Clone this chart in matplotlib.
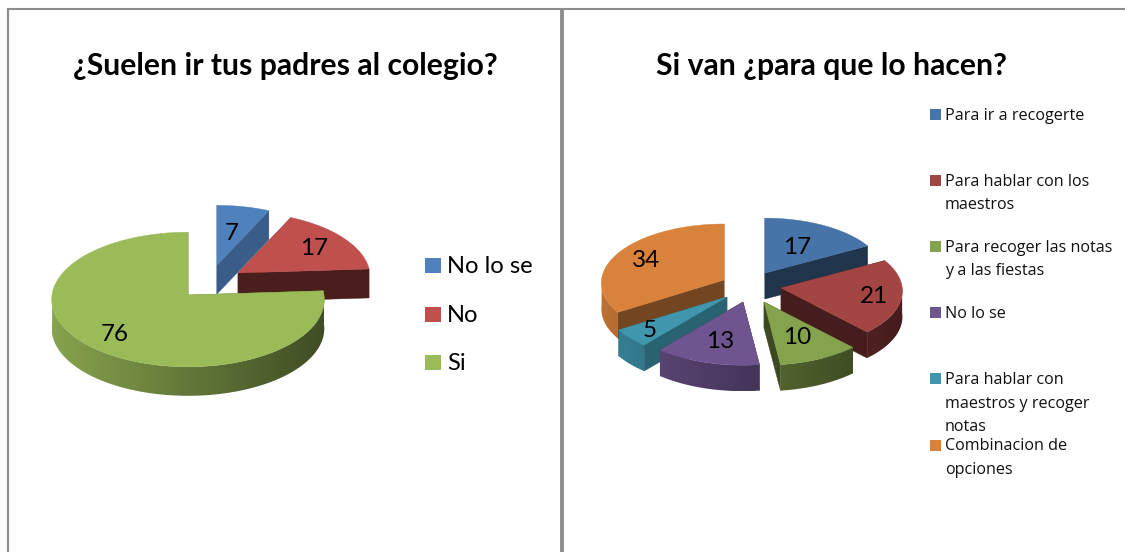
import numpy as np
import matplotlib
matplotlib.use("Agg")
import matplotlib.pyplot as plt
from matplotlib.patches import Rectangle, Polygon

# ---- data ----
title_left = "¿Suelen ir tus padres al colegio?"
labels_left = ["No lo se", "No", "Si"]
values_left = [7, 17, 76]
colors_left = ["#4f81bd", "#c0504d", "#9bbb59"]

title_right = "Si van ¿para que lo hacen?"
labels_right = ["Para ir a recogerte", "Para hablar con los\nmaestros",
                "Para recoger las notas\ny a las fiestas", "No lo se",
                "Para hablar con\nmaestros y recoger\nnotas", "Combinacion de\nopciones"]
values_right = [17, 21, 10, 13, 5, 34]
colors_right = ["#4673a8", "#a34543", "#85a24c", "#6f5590", "#3f96ad", "#d9823c"]

# ---- layout / style ----
left_style = dict(center=(188, 295), rx=136, ry=67, persp=0.067, depth=29,
                  offsets=[(29, -30), (50, -22), (0, 0)],
                  scale=[0.95, 0.97, 1.0],
                  label_frac=[0.55, 0.72, 0.75],
                  cut_shade=[0.72, 0.38, 0.6])
right_style = dict(center=(742, 290), rx=125, ry=60, persp=0.05, depth=26,
                   offsets=[(23, -17), (39, -2), (22, 12), (1, 12), (-15, 7), (-18, -10)],
                   scale=[0.96, 0.97, 1.0, 1.0, 1.0, 0.98],
                   label_frac=[0.55, 0.77, 0.6, 0.63, 0.8, 0.74],
                   cut_shade=[0.45, 0.42, 0.45, 0.6, 0.65, 0.53])

FONT = "Lato"
LEGFONT = "Open Sans"

fig = plt.figure(figsize=(11.25, 5.52), dpi=100, facecolor="white")
ax = fig.add_axes([0, 0, 1, 1])
ax.axis("off")


def project(theta, st, sc=1.0):
    p = 1 + st["persp"] * np.cos(theta)
    return sc * st["rx"] * np.sin(theta) / p, -sc * st["ry"] * np.cos(theta) / p


def draw_wall(px, py, d, ax0, rx, base, z):
    """Front rim band with a left-to-right shading gradient."""
    xs = np.linspace(px.min(), px.max(), 256)
    s = np.clip((xs - ax0) / rx, -1, 1)
    f = 0.64 - 0.23 * s
    img = (np.array(matplotlib.colors.to_rgb(base))[None, None, :] * f[None, :, None]).clip(0, 1)
    poly = Polygon(np.c_[np.r_[px, px[::-1]], np.r_[py, py[::-1] + d]], closed=True,
                   transform=ax.transData, facecolor="none", edgecolor="none")
    ax.add_patch(poly)
    im = ax.imshow(img, extent=[px.min(), px.max(), py.max() + d, py.min()], aspect="auto",
                   interpolation="bilinear", zorder=z)
    im.set_clip_path(poly)


def draw_pie(values, colors, st):
    total = sum(values)
    edges = np.radians(np.cumsum([0] + list(values)) / total * 360)
    mids = (edges[:-1] + edges[1:]) / 2
    order = list(np.argsort(-np.cos(mids)))
    cx, cy = st["center"]
    d = st["depth"]
    rgb = matplotlib.colors.to_rgb
    for i in order:
        ox, oy = st["offsets"][i]
        ax0, ay0 = cx + ox, cy + oy
        sc = st["scale"][i]
        th = np.linspace(edges[i], edges[i + 1], 240)
        px, py = project(th, st, sc)
        px, py = px + ax0, py + ay0
        z = 2 + order.index(i) * 3
        # cut faces
        cut = tuple(c * st["cut_shade"][i] for c in rgb(colors[i]))
        for k in (0, -1):
            ax.fill([ax0, px[k], px[k], ax0], [ay0, py[k], py[k] + d, ay0 + d],
                    color=cut, lw=0.3, zorder=z)
        # outer wall: only the part of the rim that faces the viewer
        front = np.cos(th) < 0.02
        if front.sum() > 2:
            draw_wall(px[front], py[front], d, ax0, st["rx"], colors[i], z + 1)
        # top
        ax.fill(np.r_[ax0, px], np.r_[ay0, py], color=colors[i], lw=0.3, zorder=z + 2)
        # value label
        lx, ly = project(mids[i], st, sc)
        fr = st["label_frac"][i]
        ax.text(ax0 + fr * lx, ay0 + fr * ly + 1, str(values[i]), ha="center", va="center",
                fontsize=17.5, family=FONT, color="black", zorder=50)


draw_pie(values_left, colors_left, left_style)
draw_pie(values_right, colors_right, right_style)

# panel frames
frame = "#8e8e8e"
ax.plot([7, 1125], [9, 9], color=frame, lw=1.5, solid_capstyle="butt", zorder=60)
ax.plot([7.5, 7.5], [9, 552], color=frame, lw=1.6, solid_capstyle="butt", zorder=60)
ax.plot([562, 562], [9, 552], color=frame, lw=2.8, solid_capstyle="butt", zorder=60)

# titles
ax.text(285, 66, title_left, ha="center", va="center", fontsize=21.7,
        family=FONT, fontweight="bold")
ax.text(831, 66, title_right, ha="center", va="center", fontsize=21.7,
        family=FONT, fontweight="bold")

# left legend
for lab, col, y in zip(labels_left, colors_left, np.linspace(265.5, 362.5, len(labels_left))):
    ax.add_patch(Rectangle((425, y - 7.5), 16, 15, color=col, lw=0))
    ax.text(447, y + 1, lab, ha="left", va="center", fontsize=17.1, family=FONT)

# right legend
for lab, col, y in zip(labels_right, colors_right, np.linspace(114, 445, len(labels_right))):
    ax.add_patch(Rectangle((930, y - 5.5), 11, 11, color=col, lw=0))
    ax.text(945, y - 6.5, lab, ha="left", va="top", fontsize=11.6, family=LEGFONT,
            linespacing=1.6, color="#111111")

ax.set_xlim(0, 1125)
ax.set_ylim(552, 0)
fig.savefig("out.png", dpi=100)
